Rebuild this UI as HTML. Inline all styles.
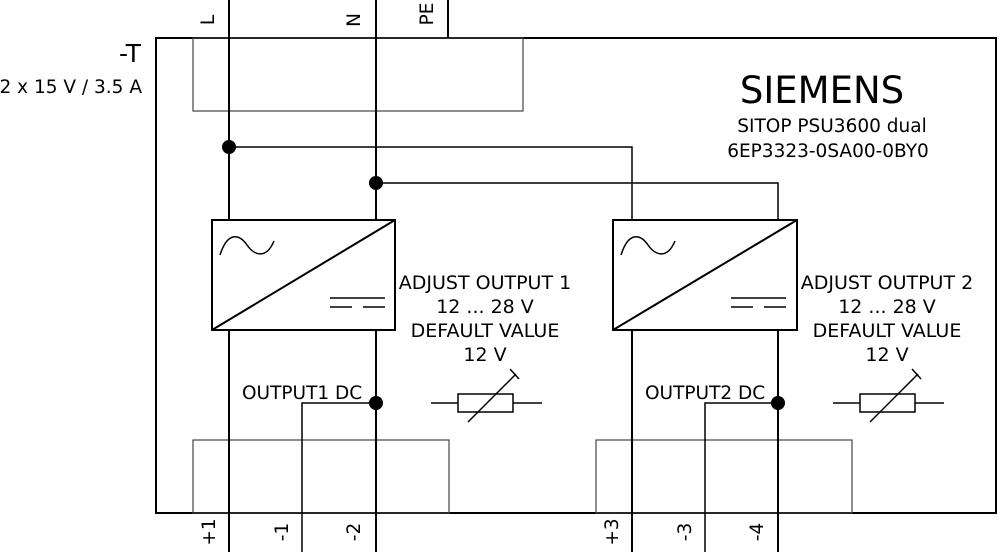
<!DOCTYPE html>
<html><head><style>body{margin:0;background:#fff}svg{display:block}text{font-family:"DejaVu Sans","Liberation Sans",sans-serif;fill:#000}</style></head>
<body>
<svg width="1000" height="552" viewBox="0 0 1000 552" xmlns="http://www.w3.org/2000/svg">
<g fill="none" stroke="#000">
<rect x="156" y="38" width="840" height="475" stroke-width="2"/>
<rect x="193" y="38" width="330" height="73" stroke="#444" stroke-width="1.2"/>
<rect x="193" y="440" width="256" height="73" stroke="#444" stroke-width="1.2"/>
<rect x="596" y="440" width="256" height="73" stroke="#444" stroke-width="1.2"/>
<g stroke-width="2">
<line x1="229" y1="0" x2="229" y2="220"/><line x1="376" y1="0" x2="376" y2="220"/>
<line x1="448" y1="0" x2="448" y2="38"/>
<line x1="229" y1="330" x2="229" y2="552"/><line x1="376" y1="330" x2="376" y2="552"/>
<line x1="632" y1="330" x2="632" y2="552"/><line x1="778" y1="330" x2="778" y2="552"/>
<rect x="212" y="220" width="183" height="110"/>
<line x1="212" y1="330" x2="395" y2="220"/>
<rect x="613" y="220" width="184" height="110"/>
<line x1="613" y1="330" x2="797" y2="220"/>
</g>
<g stroke-width="1.5">
<polyline points="229,147 632,147 632,220"/>
<polyline points="376,183 778,183 778,220"/>
<polyline points="376,403 302,403 302,552"/>
<polyline points="778,403 705,403 705,552"/>
<path d="M220,255 C228,230 240,235 247,245 C254,255 266,260 274,241"/>
<path d="M621,255 C629,230 641,235 648,245 C655,255 667,260 675,241"/>
<line x1="330" y1="298" x2="385" y2="298"/><line x1="330" y1="307" x2="352" y2="307"/><line x1="363" y1="307" x2="385" y2="307"/>
<line x1="731" y1="298" x2="786" y2="298"/><line x1="731" y1="307" x2="753" y2="307"/><line x1="764" y1="307" x2="786" y2="307"/>
<line x1="431" y1="403" x2="458" y2="403"/><rect x="458" y="394" width="55" height="18"/><line x1="513" y1="403" x2="542" y2="403"/>
<line x1="468" y1="422" x2="516" y2="374"/><line x1="510" y1="369" x2="519" y2="379"/>
<line x1="833" y1="403" x2="860" y2="403"/><rect x="860" y="394" width="55" height="18"/><line x1="915" y1="403" x2="944" y2="403"/>
<line x1="870" y1="422" x2="918" y2="374"/><line x1="912" y1="369" x2="921" y2="379"/>
</g>
</g>
<g fill="#000"><circle cx="229" cy="147" r="7"/><circle cx="376" cy="183" r="7"/><circle cx="376" cy="403" r="7"/><circle cx="778" cy="403" r="7"/></g>
<g font-size="19">
<text x="141" y="62" text-anchor="end" font-size="25">-T</text>
<text x="142" y="93" text-anchor="end" font-size="18.5">2 x 15 V / 3.5 A</text>
<text x="822" y="103" text-anchor="middle" font-size="37">SIEMENS</text>
<text x="832" y="132" text-anchor="middle" font-size="18.5">SITOP PSU3600 dual</text>
<text x="828" y="157" text-anchor="middle" font-size="18.5">6EP3323-0SA00-0BY0</text>
<g text-anchor="middle">
<text x="485" y="289">ADJUST OUTPUT 1</text><text x="485" y="313">12 ... 28 V</text><text x="485" y="337">DEFAULT VALUE</text><text x="485" y="361">12 V</text>
<text x="887" y="289">ADJUST OUTPUT 2</text><text x="887" y="313">12 ... 28 V</text><text x="887" y="337">DEFAULT VALUE</text><text x="887" y="361">12 V</text>
</g>
<text x="242" y="399" font-size="18.5">OUTPUT1 DC</text>
<text x="645" y="399" font-size="18.5">OUTPUT2 DC</text>
<g font-size="18.5">
<text transform="translate(214,20) rotate(-90)" text-anchor="middle">L</text>
<text transform="translate(360,20) rotate(-90)" text-anchor="middle">N</text>
<text transform="translate(433,14) rotate(-90)" text-anchor="middle">PE</text>
<text transform="translate(215,532) rotate(-90)" text-anchor="middle">+1</text>
<text transform="translate(288,532) rotate(-90)" text-anchor="middle">-1</text>
<text transform="translate(360,532) rotate(-90)" text-anchor="middle">-2</text>
<text transform="translate(618,532) rotate(-90)" text-anchor="middle">+3</text>
<text transform="translate(691,532) rotate(-90)" text-anchor="middle">-3</text>
<text transform="translate(763,532) rotate(-90)" text-anchor="middle">-4</text>
</g>
</g>
</svg>
</body></html>
